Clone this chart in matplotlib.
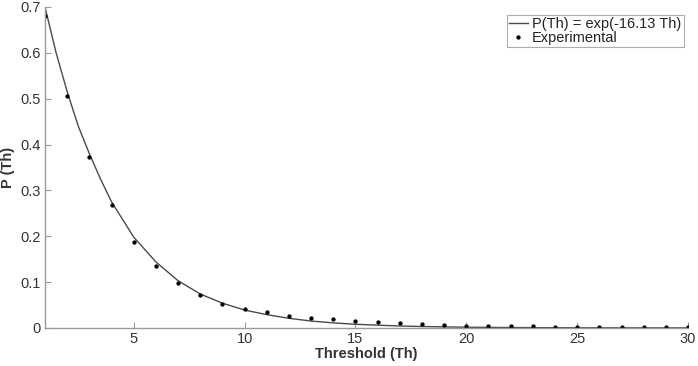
import numpy as np
import matplotlib
matplotlib.use("Agg")
import matplotlib.pyplot as plt

plt.rcParams["font.family"] = ["Liberation Sans", "DejaVu Sans"]

# fitted curve
fit_th = [1, 1.5, 2, 2.5, 3, 3.5, 4, 5, 6, 7, 8, 9, 10, 11, 12, 13, 14, 15,
          16, 17, 18, 19, 20, 21, 22, 23, 24, 25, 26, 27, 28, 29, 30]
fit_p = [0.700, 0.600, 0.515, 0.440, 0.380, 0.325, 0.275, 0.198, 0.144, 0.103,
         0.074, 0.054, 0.039, 0.029, 0.021, 0.015, 0.011, 0.008, 0.006, 0.0043,
         0.0031, 0.0023, 0.0016, 0.0012, 0.0009, 0.0006, 0.0005, 0.0003,
         0.0002, 0.0002, 0.0001, 0.0001, 0.0001]

# experimental points
exp_th = list(range(1, 31))
exp_p = [0.680, 0.505, 0.373, 0.268, 0.187, 0.134, 0.097, 0.072, 0.053, 0.042,
         0.034, 0.027, 0.022, 0.019, 0.016, 0.013, 0.010, 0.009, 0.0065, 0.005,
         0.005, 0.0038, 0.0036, 0.0022, 0.003, 0.003, 0.0016, 0.0015, 0.0015,
         0.0015]

fig = plt.figure(figsize=(6.98, 3.66), dpi=100)
ax = fig.add_axes([0.0645, 0.104, 0.9212, 0.877])

ax.plot(fit_th, fit_p, color="#4a4a4a", lw=1.0, label="P(Th) = exp(-16.13 Th)")
ax.plot(exp_th, exp_p, "o", color="black", ms=2.1, ls="none",
        label="Experimental")

ax.set_xlim(1, 30)
ax.set_ylim(0, 0.7)
ax.set_xticks([5, 10, 15, 20, 25, 30])
ax.set_yticks(np.arange(0, 0.71, 0.1))
ax.set_yticklabels(["0", "0.1", "0.2", "0.3", "0.4", "0.5", "0.6", "0.7"])

for s in ("top", "right"):
    ax.spines[s].set_visible(False)
for s in ("left", "bottom"):
    ax.spines[s].set_color("#999999")
    ax.spines[s].set_linewidth(1.0)
ax.tick_params(direction="in", length=4, width=0.8, color="#999999",
               labelsize=10.5, labelcolor="#333333", pad=3)

ax.set_xlabel("Threshold (Th)", fontsize=10.5, fontweight="bold",
              color="#333333", labelpad=1)
ax.set_ylabel("P (Th)", fontsize=10.5, fontweight="bold", color="#333333",
              labelpad=4)

leg = ax.legend(loc="upper right", bbox_to_anchor=(0.993, 0.975), fontsize=10.5,
                frameon=True, fancybox=False, handlelength=1.3,
                handletextpad=0.3, borderpad=0.15, labelspacing=0.0,
                borderaxespad=0, markerscale=1.0)
leg.get_frame().set_edgecolor("#999999")
leg.get_frame().set_linewidth(0.8)
for t in leg.get_texts():
    t.set_color("#222222")

fig.savefig("out.png", dpi=100)
